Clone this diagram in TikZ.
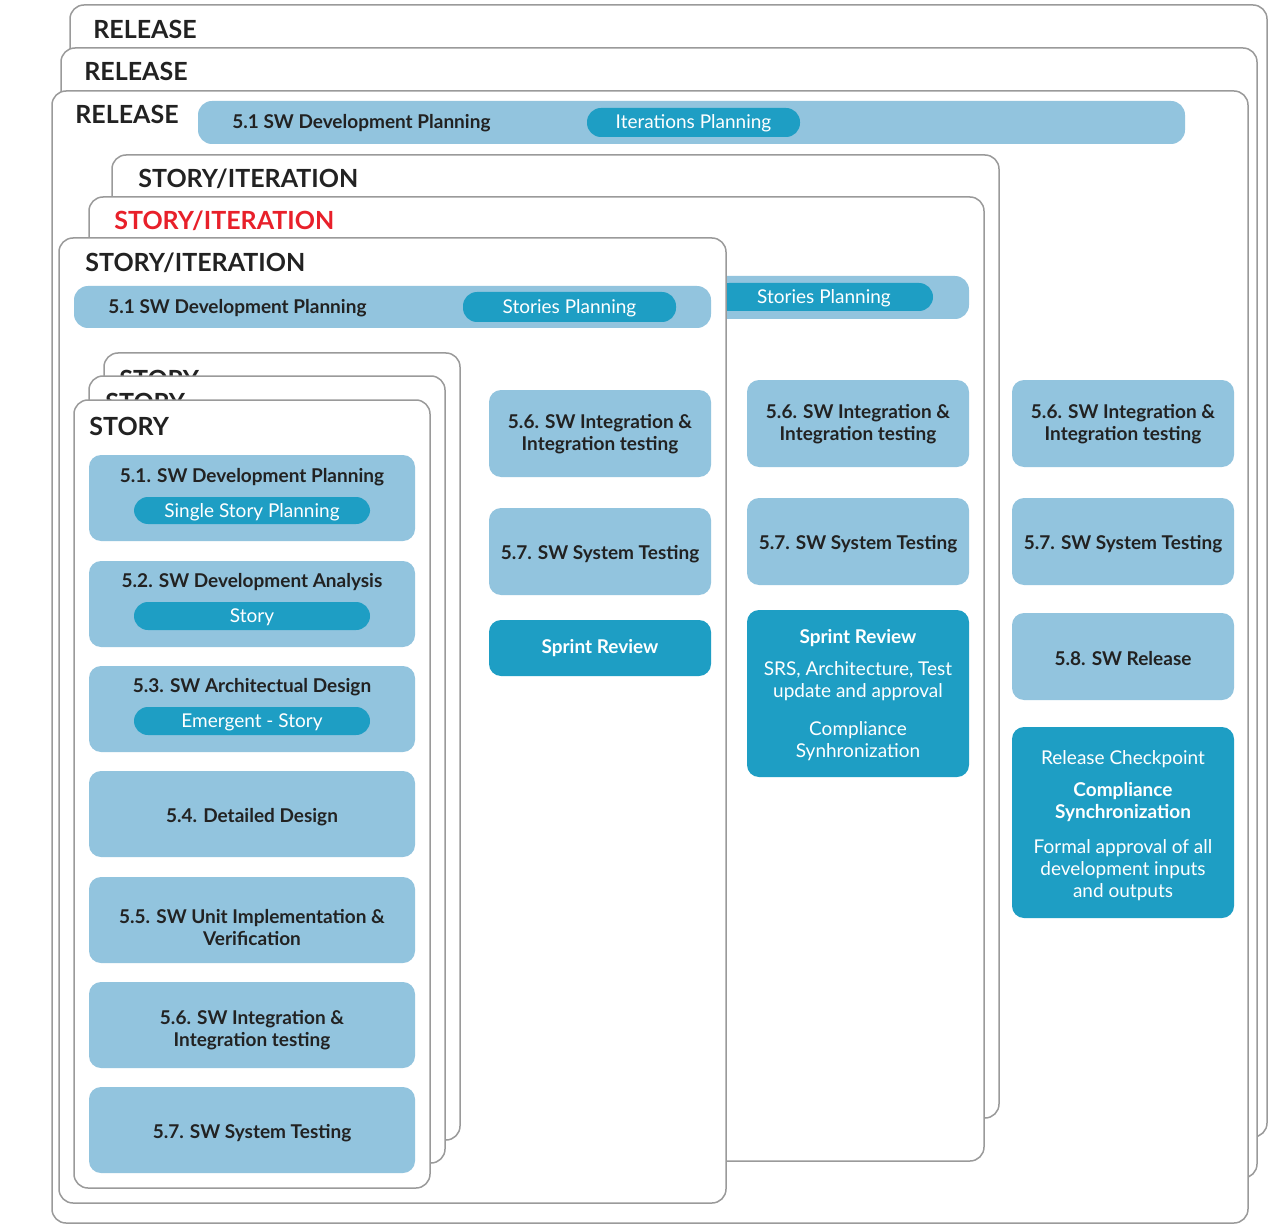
\documentclass[tikz,border=0pt]{standalone}
\usepackage{fontspec}
\setmainfont{Lato}
\usetikzlibrary{fit}
\definecolor{clblue}{HTML}{92C4DE}
\definecolor{cteal}{HTML}{1E9EC4}
\definecolor{cgray}{HTML}{9A9A9A}
\definecolor{cdark}{HTML}{222222}
\definecolor{cred}{HTML}{E8202A}
\tikzset{
  card/.style={draw=cgray, line width=0.75pt, fill=white, rounded corners=7pt, inner sep=0pt},
  hdr/.style={anchor=base west, inner sep=0pt, text=cdark, font=\fontsize{12.5}{14}\selectfont\bfseries},
  lbox/.style={fill=clblue, rounded corners=6pt, inner sep=0pt},
  tbox/.style={fill=cteal, rounded corners=6pt, inner sep=0pt},
  ltext/.style={inner sep=0pt, align=center, text=cdark, font=\fontsize{9.5}{11}\selectfont\bfseries},
  ttext/.style={inner sep=0pt, align=center, text=white, font=\fontsize{9.5}{11}\selectfont},
  bar/.style={fill=clblue, rounded corners=7pt, inner sep=0pt},
  pill/.style={fill=cteal, rounded corners=7pt, inner sep=0pt},
  ptext/.style={inner sep=0pt, text=white, font=\fontsize{9.5}{11}\selectfont},
  ttl/.style={inner sep=0pt, text=cdark, font=\fontsize{9.5}{11}\selectfont\bfseries},
}
\begin{document}
\begin{tikzpicture}[x=0.5pt,y=-0.5pt]
\fill[white] (0,0) rectangle (1280,1230);
\useasboundingbox (0,0) rectangle (1280,1230);
% ---------- RELEASE cards
\node[card, fit={(70,5) (1267,1137)}] (rel1) {};
\node[hdr] (rel1t) at (93,39) {RELEASE};
\node[card, fit={(61,48) (1257,1178)}] (rel2) {};
\node[hdr] (rel2t) at (84,81) {RELEASE};
\node[card, fit={(52,91) (1248,1223)}] (rel3) {};
\node[hdr] (rel3t) at (75,124) {RELEASE};
\node[bar, fit={(198,101) (1185,144)}] (relbar) {};
\node[ttl, anchor=west] (relbart) at (232,123) {5.1 SW Development Planning};
\node[pill, fit={(587,108) (800,137)}] (relpill) {};
\node[ptext] (relpillt) at (693.5,123.5) {Iterations Planning};
% ---------- STORY/ITERATION cards
\node[card, fit={(112,155) (999,1118)}] (si1) {};
\node[hdr] (si1t) at (138,188) {STORY/ITERATION};
\node[card, fit={(89,197) (984,1161)}] (si2) {};
\node[hdr, text=cred] (si2t) at (114,230) {STORY/ITERATION};
\node[bar, fit={(700,276) (969,319)}] (si2bar) {};
\node[pill, fit={(715,283) (933,311)}] (si2pill) {};
\node[ptext] (si2pillt) at (824,298.5) {Stories Planning};
\node[card, fit={(59,238) (726,1203)}] (si3) {};
\node[hdr] (si3t) at (85,271) {STORY/ITERATION};
\node[bar, fit={(74,286) (711,328)}] (si3bar) {};
\node[ttl, anchor=west] (si3bart) at (108,308) {5.1 SW Development Planning};
\node[pill, fit={(463,292) (676,322)}] (si3pill) {};
\node[ptext] (si3pillt) at (569.5,308.5) {Stories Planning};
% ---------- STORY cards
\node[card, fit={(104,353) (460,1140)}] (st1) {};
\node[hdr] (st1t) at (119,388) {STORY};
\node[card, fit={(89,376) (445,1163)}] (st2) {};
\node[hdr] (st2t) at (105,411) {STORY};
\node[card, fit={(74,400) (430,1188)}] (st3) {};
\node[hdr] (st3t) at (89,435) {STORY};
% boxes in STORY
\node[lbox, fit={(89,455) (415,541)}] (b51) {};
\node[ttl] (b51t) at (252,477) {5.1. SW Development Planning};
\node[pill, fit={(134,497) (370,524)}] (b51p) {};
\node[ptext] (b51pt) at (252,512) {Single Story Planning};
\node[lbox, fit={(89,561) (415,647)}] (b52) {};
\node[ttl] (b52t) at (252,582) {5.2. SW Development Analysis};
\node[pill, fit={(134,602) (370,630)}] (b52p) {};
\node[ptext] (b52pt) at (252,617) {Story};
\node[lbox, fit={(89,666) (415,752)}] (b53) {};
\node[ttl] (b53t) at (252,687) {5.3. SW Architectual Design};
\node[pill, fit={(134,707) (370,735)}] (b53p) {};
\node[ptext] (b53pt) at (252,722) {Emergent - Story};
\node[lbox, fit={(89,771) (415,857)}] (b54) {};
\node[ltext] (b54t) at (252,817) {5.4. Detailed Design};
\node[lbox, fit={(89,877) (415,963)}] (b55) {};
\node[ltext] (b55t) at (252,928) {5.5. SW Unit Implementation \&\\Verification};
\node[lbox, fit={(89,982) (415,1068)}] (b56) {};
\node[ltext] (b56t) at (252,1030) {5.6. SW Integration \&\\Integration testing};
\node[lbox, fit={(89,1087) (415,1173)}] (b57) {};
\node[ltext] (b57t) at (252,1133) {5.7. SW System Testing};
% ---------- column 2
\node[lbox, fit={(489,390) (711,477)}] (c2a) {};
\node[ltext] (c2at) at (600,434) {5.6. SW Integration \&\\Integration testing};
\node[lbox, fit={(489,508) (711,595)}] (c2b) {};
\node[ltext] (c2bt) at (600,554) {5.7. SW System Testing};
\node[tbox, fit={(489,620) (711,676)}] (c2c) {};
\node[ttext, font=\fontsize{9.5}{11}\selectfont\bfseries] (c2ct) at (600,648) {Sprint Review};
% ---------- column 3
\node[lbox, fit={(747,380) (969,467)}] (c3a) {};
\node[ltext] (c3at) at (858,424) {5.6. SW Integration \&\\Integration testing};
\node[lbox, fit={(747,498) (969,585)}] (c3b) {};
\node[ltext] (c3bt) at (858,544) {5.7. SW System Testing};
\node[tbox, fit={(747,610) (969,777)}] (c3c) {};
\node[ttext] (c3ct) at (858,695) {{\bfseries Sprint Review}\\[5pt]SRS, Architecture, Test\\update and approval\\[8pt]Compliance\\Synhronization};
% ---------- column 4
\node[lbox, fit={(1012,380) (1234,467)}] (c4a) {};
\node[ltext] (c4at) at (1123,424) {5.6. SW Integration \&\\Integration testing};
\node[lbox, fit={(1012,498) (1234,585)}] (c4b) {};
\node[ltext] (c4bt) at (1123,544) {5.7. SW System Testing};
\node[lbox, fit={(1012,613) (1234,700)}] (c4c) {};
\node[ltext] (c4ct) at (1123,659) {5.8. SW Release};
\node[tbox, fit={(1012,727) (1234,918)}] (c4d) {};
\node[ttext] (c4dt) at (1123,826) {Release Checkpoint\\[5pt]{\bfseries Compliance}\\{\bfseries Synchronization}\\[6.5pt]Formal approval of all\\development inputs\\and outputs};
\end{tikzpicture}
\end{document}
